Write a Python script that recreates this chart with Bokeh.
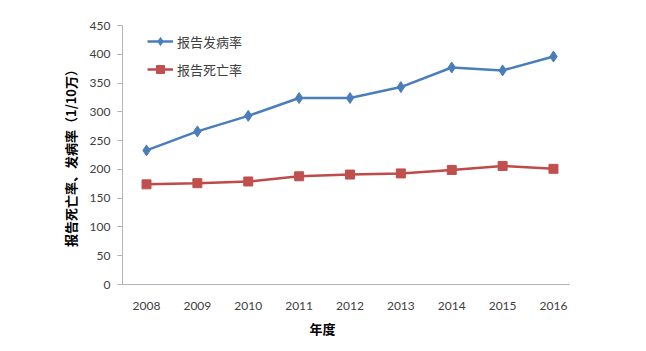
from bokeh.plotting import figure
from bokeh.models import Range1d, FixedTicker, Legend, LegendItem, Title
from bokeh.embed import file_html
from bokeh.resources import INLINE

years = ["2008", "2009", "2010", "2011", "2012", "2013", "2014", "2015", "2016"]
incidence = [233, 266, 293, 324, 324, 343, 377, 372, 396]
mortality = [174, 176, 179, 188, 191, 193, 199, 206, 201]
y_ticks = [0, 50, 100, 150, 200, 250, 300, 350, 400, 450]
series_names = ["报告发病率", "报告死亡率"]
x_title = "年度"
y_title = "报告死亡率、发病率（1/10万）"

xs = list(range(len(years)))

p = figure(width=646, height=351, output_backend="svg", toolbar_location=None,
           x_range=Range1d(-0.472, 8.315), y_range=Range1d(0, 450),
           min_border_left=122, min_border_right=77, min_border_top=25, min_border_bottom=67)
p.outline_line_color = None
p.xgrid.visible = False
p.ygrid.visible = False
p.background_fill_color = "white"
p.border_fill_color = "white"

axis_col = "#B3B3B3"
lab_col = "#404040"
font = "Lato"

p.xaxis.ticker = FixedTicker(ticks=xs)
p.xaxis.major_label_overrides = {i: y for i, y in enumerate(years)}
p.xaxis.axis_line_color = axis_col
p.xaxis.major_tick_line_color = None
p.xaxis.minor_tick_line_color = None
p.xaxis.major_tick_out = 0
p.xaxis.major_tick_in = 0
p.xaxis.major_label_standoff = 17
p.xaxis.major_label_text_font = font
p.xaxis.major_label_text_font_size = "12px"
p.xaxis.major_label_text_color = lab_col

p.yaxis.ticker = FixedTicker(ticks=y_ticks)
p.yaxis.axis_line_color = axis_col
p.yaxis.major_tick_line_color = axis_col
p.yaxis.minor_tick_line_color = None
p.yaxis.major_tick_out = 5
p.yaxis.major_tick_in = 0
p.yaxis.major_label_standoff = 7
p.yaxis.major_label_text_font = font
p.yaxis.major_label_text_font_size = "12px"
p.yaxis.major_label_text_color = lab_col
p.yaxis.axis_label = y_title
p.yaxis.axis_label_text_font = "Noto Sans CJK SC"
p.yaxis.axis_label_text_font_style = "bold"
p.yaxis.axis_label_text_font_size = "13px"
p.yaxis.axis_label_text_color = "black"
p.yaxis.axis_label_standoff = 7

blue = "#4A7EBB"
red = "#BE4B48"

l1 = p.line(xs, incidence, line_color=blue, line_width=2.5)
s1 = p.scatter(xs, incidence, marker="diamond", size=11, fill_color=blue, line_color=blue)
l2 = p.line(xs, mortality, line_color=red, line_width=2.5)
s2 = p.scatter(xs, mortality, marker="square", size=9, fill_color="#C0504D", line_color="#C0504D")

legend = Legend(items=[LegendItem(label=series_names[0], renderers=[l1, s1]),
                       LegendItem(label=series_names[1], renderers=[l2, s2])],
                location=(25, 205), padding=0, spacing=8, glyph_width=26, glyph_height=20,
                label_standoff=4, border_line_color=None, background_fill_alpha=0,
                label_text_font="Noto Sans CJK SC", label_text_font_size="13px",
                label_text_color=lab_col)
p.add_layout(legend, "center")

p.add_layout(Title(text=x_title, align="left", offset=187, standoff=8,
                   text_font="Noto Sans CJK SC", text_font_style="bold",
                   text_font_size="13px", text_color="black"), "below")

open("out.html", "w").write(file_html(p, INLINE))
